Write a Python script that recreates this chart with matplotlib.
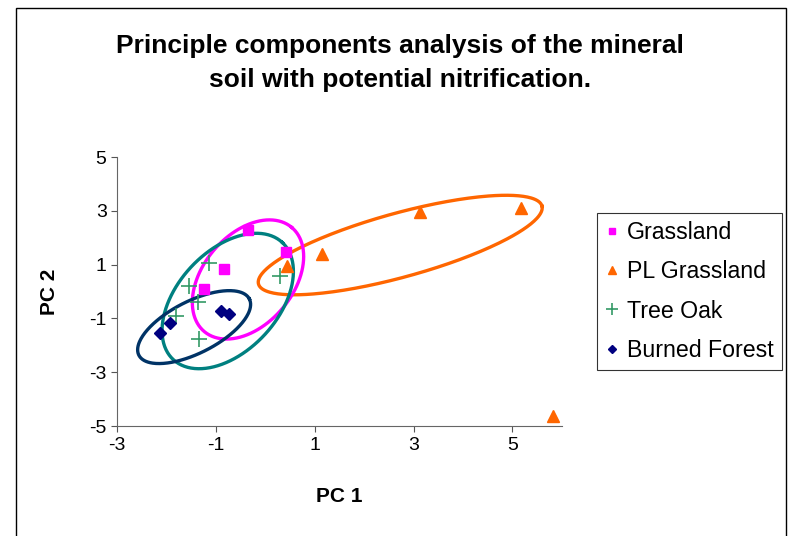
import numpy as np
import matplotlib
matplotlib.use("Agg")
import matplotlib.pyplot as plt
from matplotlib.patches import Rectangle

plt.rcParams['font.family'] = ['Liberation Sans', 'DejaVu Sans']
plt.rcParams['axes.unicode_minus'] = False

# Dados (PC 1, PC 2)
grass_x = [-0.35, -0.83, -1.24, 0.42]
grass_y = [2.29, 0.84, 0.09, 1.47]

pl_x = [3.13, 5.18, 1.15, 0.44, 5.83]
pl_y = [2.97, 3.10, 1.40, 0.95, -4.63]

oak_x = [-1.14, -1.54, -1.36, -1.81, -1.34, 0.30]
oak_y = [1.06, 0.20, -0.39, -0.91, -1.77, 0.58]

burn_x = [-2.13, -1.93, -0.89, -0.73]
burn_y = [-1.54, -1.17, -0.72, -0.84]

# Elipses: centro (x, y), semi-eixos em pixels (a, b), angulo (graus, em tela)
ellipse_center = [(2.73, 1.73), (-0.35, 0.45), (-0.76, -0.35), (-1.44, -1.32)]
ellipse_axes = [(147, 32), (68, 45), (80, 50), (62, 26)]
ellipse_angle = [15.4, 50, 47, 27]
ellipse_color = ['#FF6600', '#FF00FF', '#008080', '#003366']

fig = plt.figure(figsize=(7.88, 5.36), dpi=100)
ax = fig.add_axes([0.1485, 0.205, 0.5645, 0.502])

ax.set_xlim(-3, 6)
ax.set_ylim(-5, 5)

# escala pixel -> dado
px_x = 0.5645 * 788 / 9.0
px_y = 0.502 * 536 / 10.0

t = np.linspace(0, 2 * np.pi, 300)
for (cx, cy), (a, b), ang, col in zip(ellipse_center, ellipse_axes, ellipse_angle, ellipse_color):
    th = np.radians(ang)
    ex = a * np.cos(t) * np.cos(th) - b * np.sin(t) * np.sin(th)
    ey = a * np.cos(t) * np.sin(th) + b * np.sin(t) * np.cos(th)
    ax.plot(cx + ex / px_x, cy + ey / px_y, color=col, linewidth=2.4, zorder=2)

ax.plot(grass_x, grass_y, 's', color='#FF00FF', markersize=6.5, label='Grassland', zorder=3)
ax.plot(pl_x, pl_y, '^', color='#FF6600', markersize=8.5, label='PL Grassland', zorder=3)
ax.plot(oak_x, oak_y, '+', color='#339966', markersize=12, markeredgewidth=1.2, label='Tree Oak', zorder=3)
ax.plot(burn_x, burn_y, 'D', color='#000080', markersize=6, label='Burned Forest', zorder=3)

ax.set_xticks([-3, -1, 1, 3, 5])
ax.set_yticks([-5, -3, -1, 1, 3, 5])
ax.tick_params(labelsize=14, length=4, color='#555555')
for s in ['top', 'right']:
    ax.spines[s].set_visible(False)
for s in ['left', 'bottom']:
    ax.spines[s].set_color('#666666')

ax.set_xlabel('PC 1', fontsize=15, fontweight='bold', labelpad=24)
ax.set_ylabel('PC 2', fontsize=15, fontweight='bold', labelpad=22)

fig.text(0.508, 0.882, 'Principle components analysis of the mineral\nsoil with potential nitrification.',
         ha='center', va='center', fontsize=19, fontweight='bold', linespacing=1.5)

leg = ax.legend(loc='upper left', bbox_to_anchor=(1.079, 0.792), fontsize=16.7, frameon=True,
                fancybox=False, edgecolor='black', handlelength=0.6, handletextpad=0.33,
                labelspacing=0.7, borderpad=0.35, borderaxespad=0, markerscale=0.7)
leg.get_frame().set_linewidth(0.8)

fig.patches.append(Rectangle((16 / 788, -0.02), 770 / 788, 1.02 - 8 / 536, transform=fig.transFigure,
                             fill=False, edgecolor='black', linewidth=1.0))

fig.savefig('out.png', dpi=100)
